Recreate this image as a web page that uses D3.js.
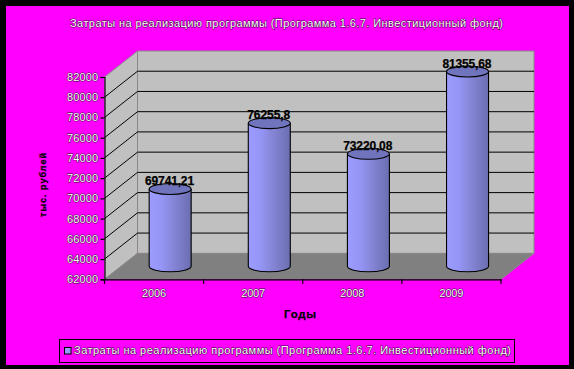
<!DOCTYPE html>
<html><head><meta charset="utf-8">
<script src="https://cdn.jsdelivr.net/npm/d3@7/dist/d3.min.js"></script>
<style>html,body{margin:0;padding:0;background:#000}svg{display:block}</style>
</head><body><script>
const years = ["2006","2007","2008","2009"];
const values = [69741.21,76255.8,73220.08,81355.68];
const valueLabels = ["69741,21","76255,8","73220,08","81355,68"];
const yTicks = [62000,64000,66000,68000,70000,72000,74000,76000,78000,80000,82000];
const titleText = "Затраты на реализацию программы (Программа 1.6.7. Инвестиционный фонд)";
const xTitle = "Годы";
const yTitle = "тыс. рублей";

const W=574,H=369,font="'Liberation Sans',Arial,sans-serif";
const svg=d3.select("body").append("svg").attr("width",W).attr("height",H).style("font-family",font);
const defs=svg.append("defs");
const g=defs.append("linearGradient").attr("id","cyl");
[[0,"#9c9cff"],[.3,"#9595f5"],[.6,"#8484d4"],[1,"#6a6eb0"]].forEach(d=>g.append("stop").attr("offset",d[0]).attr("stop-color",d[1]));

svg.append("rect").attr("width",W).attr("height",H).attr("fill","#000005");
svg.append("rect").attr("x",6).attr("y",6).attr("width",563).attr("height",359).attr("fill","#ff00ff");

const x0=104.5,x1=501,yB=279.3,yT=77,dx=33,dy=-26;
const x=d3.scaleBand().domain(years).range([x0,x1]);
const y=d3.scaleLinear().domain([62000,82000]).range([yB,yT]);
const poly=p=>p.map(q=>q.join(",")).join(" ");

function label(sel,opt){
  const t=sel.append("text").attr("x",opt.x).attr("y",opt.y).attr("text-anchor",opt.anchor||"middle")
   .attr("dominant-baseline","central").attr("font-size",opt.size||11).attr("font-weight",opt.bold?"bold":"normal")
   .attr("textLength",opt.len||null).attr("lengthAdjust","spacing").text(opt.t);
  if(opt.bold) t.attr("fill","#000").attr("stroke","#000").attr("stroke-width",0.25);
  else t.attr("fill","#fff").attr("stroke","#3a003a").attr("stroke-width",0.9).style("paint-order","stroke");
  return t;
}
// walls and floor
svg.append("polygon").attr("points",poly([[x0,yT],[x0+dx,yT+dy],[x1+dx,yT+dy],[x1+dx,yB+dy],[x0+dx,yB+dy],[x0,yB]])).attr("fill","#c0c0c0");
svg.append("polygon").attr("points",poly([[x0,yB],[x0+dx,yB+dy],[x1+dx,yB+dy],[x1,yB]])).attr("fill","#808080");
svg.append("path").attr("fill","none").attr("stroke","#8a8a8a").attr("stroke-width",1)
  .attr("d",`M${x0},${yT}L${x0+dx},${yT+dy}H${x1+dx}V${yB+dy}L${x1},${yB}M${x0+dx},${yT+dy}V${yB+dy}L${x0},${yB}M${x0+dx},${yB+dy}H${x1+dx}`);
// gridlines
const grid=svg.append("g").attr("stroke","#000").attr("fill","none");
yTicks.slice(1,-1).forEach(t=>{
  const v=y(t);
  grid.append("path").attr("stroke-width",1).attr("d",`M${x0},${v}L${x0+dx},${v+dy}H${x1+dx}`);
});
// axes
const ay=svg.append("g").attr("transform",`translate(${x0},0)`).call(d3.axisLeft(y).tickValues(yTicks).tickSize(4).tickFormat(""));
const ax=svg.append("g").attr("transform",`translate(0,${yB})`).call(d3.axisBottom(x).tickSize(0).tickFormat(""));
[ay,ax].forEach(a=>a.selectAll("path,line").attr("stroke","#000").attr("stroke-width",1.2));
years.concat("end").forEach((d,i)=>{
  const px=x0+i*x.bandwidth();
  svg.append("line").attr("x1",px).attr("x2",px).attr("y1",yB).attr("y2",yB+4.5).attr("stroke","#000").attr("stroke-width",1.2);
});
yTicks.forEach(t=>label(svg,{x:98,y:y(t),anchor:"end",t:d3.format("d")(t),len:31}));
years.forEach(d=>label(svg,{x:x(d)+x.bandwidth()/2,y:292.7,t:d,len:24}));

// cylinders
const r=21,ry=5.5,ox=dx/2,oy=dy/2;
const bars=svg.selectAll("g.bar").data(values).join("g").attr("class","bar");
bars.each(function(v,i){
  const s=d3.select(this),cx=x(years[i])+x.bandwidth()/2+ox-.4,base=yB+oy,top=y(v)+oy+1;
  s.append("path").attr("fill","url(#cyl)").attr("stroke","#000").attr("stroke-width",1.1)
   .attr("d",`M${cx-r},${top}V${base}A${r},${ry} 0 0 0 ${cx+r},${base}V${top}`);
  s.append("ellipse").attr("cx",cx).attr("cy",top).attr("rx",r).attr("ry",ry)
   .attr("fill","#7074bc").attr("stroke","#000").attr("stroke-width",1.1);
});
values.forEach((v,i)=>{
  const cx=x(years[i])+x.bandwidth()/2+ox;
  label(svg,{x:cx-1,y:y(v)+oy-7,t:valueLabels[i],bold:true,size:12,len:i==1?43:49});
});
// titles
label(svg,{x:286.5,y:23,t:titleText,len:433});
label(svg,{x:300,y:314,t:xTitle,bold:true,size:11.5,len:32});
label(svg,{x:0,y:0,t:yTitle,bold:true,size:9,len:64}).attr("x",null).attr("y",null)
  .attr("transform","translate(43,185) rotate(-90)");
// legend
svg.append("rect").attr("x",59.5).attr("y",339.5).attr("width",455).attr("height",23).attr("fill","none").attr("stroke","#000").attr("stroke-width",1);
svg.append("rect").attr("x",64.5).attr("y",347.5).attr("width",6.5).attr("height",6.5).attr("fill","#9999ff").attr("stroke","#000").attr("stroke-width",1);
label(svg,{x:74,y:350.3,anchor:"start",t:titleText,len:437});
</script></body></html>
